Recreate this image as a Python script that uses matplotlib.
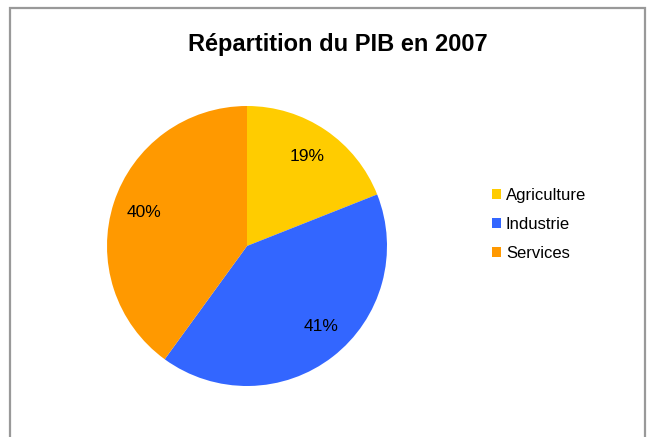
import matplotlib
matplotlib.use("Agg")
import matplotlib.pyplot as plt
from matplotlib.patches import Rectangle

title = "Répartition du PIB en 2007"
categories = ["Agriculture", "Industrie", "Services"]
values = [19, 41, 40]
colors = ["#FFCC00", "#3366FF", "#FF9900"]

plt.rcParams['font.family'] = ['Liberation Sans', 'DejaVu Sans']

W, H = 651, 437
fig = plt.figure(figsize=(W / 100, H / 100), dpi=100)

# outer frame
fig.patches.append(Rectangle((10 / W, -0.05), 635 / W, 1 - 8 / H + 0.05,
                             transform=fig.transFigure, fill=False,
                             edgecolor="#999999", linewidth=1.6))

cx, cy, r = 247, 246, 140
ax = fig.add_axes([(cx - r) / W, 1 - (cy + r) / H, 2 * r / W, 2 * r / H])
wedges, texts, autotexts = ax.pie(values, colors=colors, startangle=90,
                                  counterclock=False, radius=1,
                                  autopct='%1.0f%%', pctdistance=0.77,
                                  wedgeprops=dict(linewidth=0),
                                  textprops=dict(fontsize=12.5, color='black'))
# Excel-style nudge of the Industrie label
px, py = autotexts[1].get_position()
autotexts[1].set_position((px + 0.055, py + 0.035))

ax.set_xlim(-1, 1)
ax.set_ylim(-1, 1)
ax.set_aspect('auto')
ax.axis('off')

fig.text(338 / W, 1 - 45 / H, title, ha='center', va='center',
         fontsize=17, fontweight='bold')

fig.legend(wedges, categories, loc='upper left',
           bbox_to_anchor=(485 / W, 1 - 181 / H), frameon=False,
           fontsize=12, handlelength=0.55, handleheight=0.55,
           handletextpad=0.3, labelspacing=0.85, borderaxespad=0)

fig.savefig("out.png", dpi=100)
